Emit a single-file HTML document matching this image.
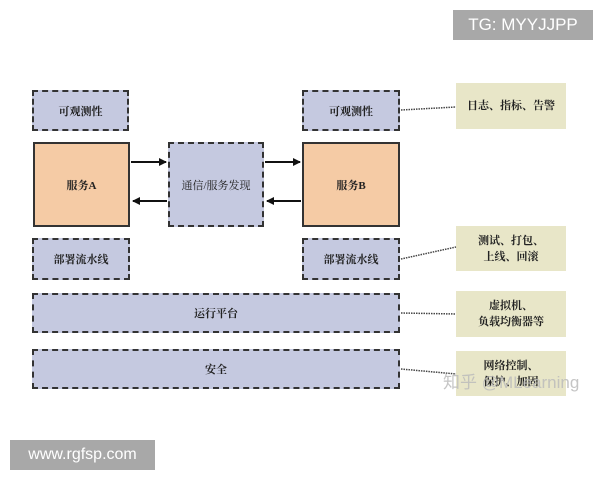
<!DOCTYPE html>
<html><head><meta charset="utf-8"><style>
body{margin:0;width:600px;height:480px;background:#fff;position:relative;overflow:hidden;font-family:"Liberation Serif","Noto Serif CJK SC",serif;}
.b{position:absolute;box-sizing:border-box;display:flex;align-items:center;justify-content:center;text-align:center;font-size:11px;color:#222;font-weight:bold;}
.d{background:#c5c9e0;border:2px dashed #333;}
.o{background:#f5cba5;border:2px solid #333;}
.n{background:#e8e6c8;font-weight:bold;line-height:16px;}
.w{position:absolute;background:#a8a8a8;color:#fff;font-family:"Liberation Sans",sans-serif;display:flex;align-items:center;justify-content:center;}
</style></head><body>
<div class="w" style="left:453px;top:10px;width:140px;height:30px;font-size:17px;">TG: MYYJJPP</div>
<div class="w" style="left:10px;top:440px;width:145px;height:30px;font-size:16px;">www.rgfsp.com</div>

<div class="b d" style="left:32px;top:90px;width:97px;height:41px;">可观测性</div>
<div class="b d" style="left:302px;top:90px;width:98px;height:41px;">可观测性</div>
<div class="b o" style="left:33px;top:142px;width:97px;height:85px;">服务A</div>
<div class="b d" style="left:168px;top:142px;width:96px;height:85px;font-weight:normal;">通信/服务发现</div>
<div class="b o" style="left:302px;top:142px;width:98px;height:85px;">服务B</div>
<div class="b d" style="left:32px;top:238px;width:98px;height:42px;">部署流水线</div>
<div class="b d" style="left:302px;top:238px;width:98px;height:42px;">部署流水线</div>
<div class="b d" style="left:32px;top:293px;width:368px;height:40px;">运行平台</div>
<div class="b d" style="left:32px;top:349px;width:368px;height:40px;">安全</div>

<div class="b n" style="left:456px;top:83px;width:110px;height:46px;">日志、指标、告警</div>
<div class="b n" style="left:456px;top:226px;width:110px;height:45px;">测试、打包、<br>上线、回滚</div>
<div class="b n" style="left:456px;top:291px;width:110px;height:46px;">虚拟机、<br>负载均衡器等</div>
<div class="b n" style="left:456px;top:351px;width:110px;height:45px;">网络控制、<br>保护、加固</div>

<svg width="600" height="480" style="position:absolute;left:0;top:0">
<defs><marker id="a" markerWidth="8" markerHeight="8" refX="7" refY="4" orient="auto" markerUnits="userSpaceOnUse"><path d="M0,0L8,4L0,8z" fill="#111"/></marker></defs>
<g stroke="#111" stroke-width="2" fill="none">
<line x1="131" y1="162" x2="166" y2="162" marker-end="url(#a)"/>
<line x1="167" y1="201" x2="133" y2="201" marker-end="url(#a)"/>
<line x1="265" y1="162" x2="300" y2="162" marker-end="url(#a)"/>
<line x1="301" y1="201" x2="267" y2="201" marker-end="url(#a)"/>
</g>
<g stroke="#444" stroke-width="1.5" stroke-dasharray="1.5 1" fill="none">
<line x1="401" y1="110" x2="456" y2="107"/>
<line x1="401" y1="259" x2="456" y2="247"/>
<line x1="401" y1="313" x2="456" y2="314"/>
<line x1="401" y1="369" x2="456" y2="374"/>
</g>
<text x="443" y="388" font-family="Liberation Sans,Noto Sans CJK SC,sans-serif" font-size="17" fill="#bbb" fill-opacity="0.85">知乎 @MLearning</text>
</svg>
</body></html>
